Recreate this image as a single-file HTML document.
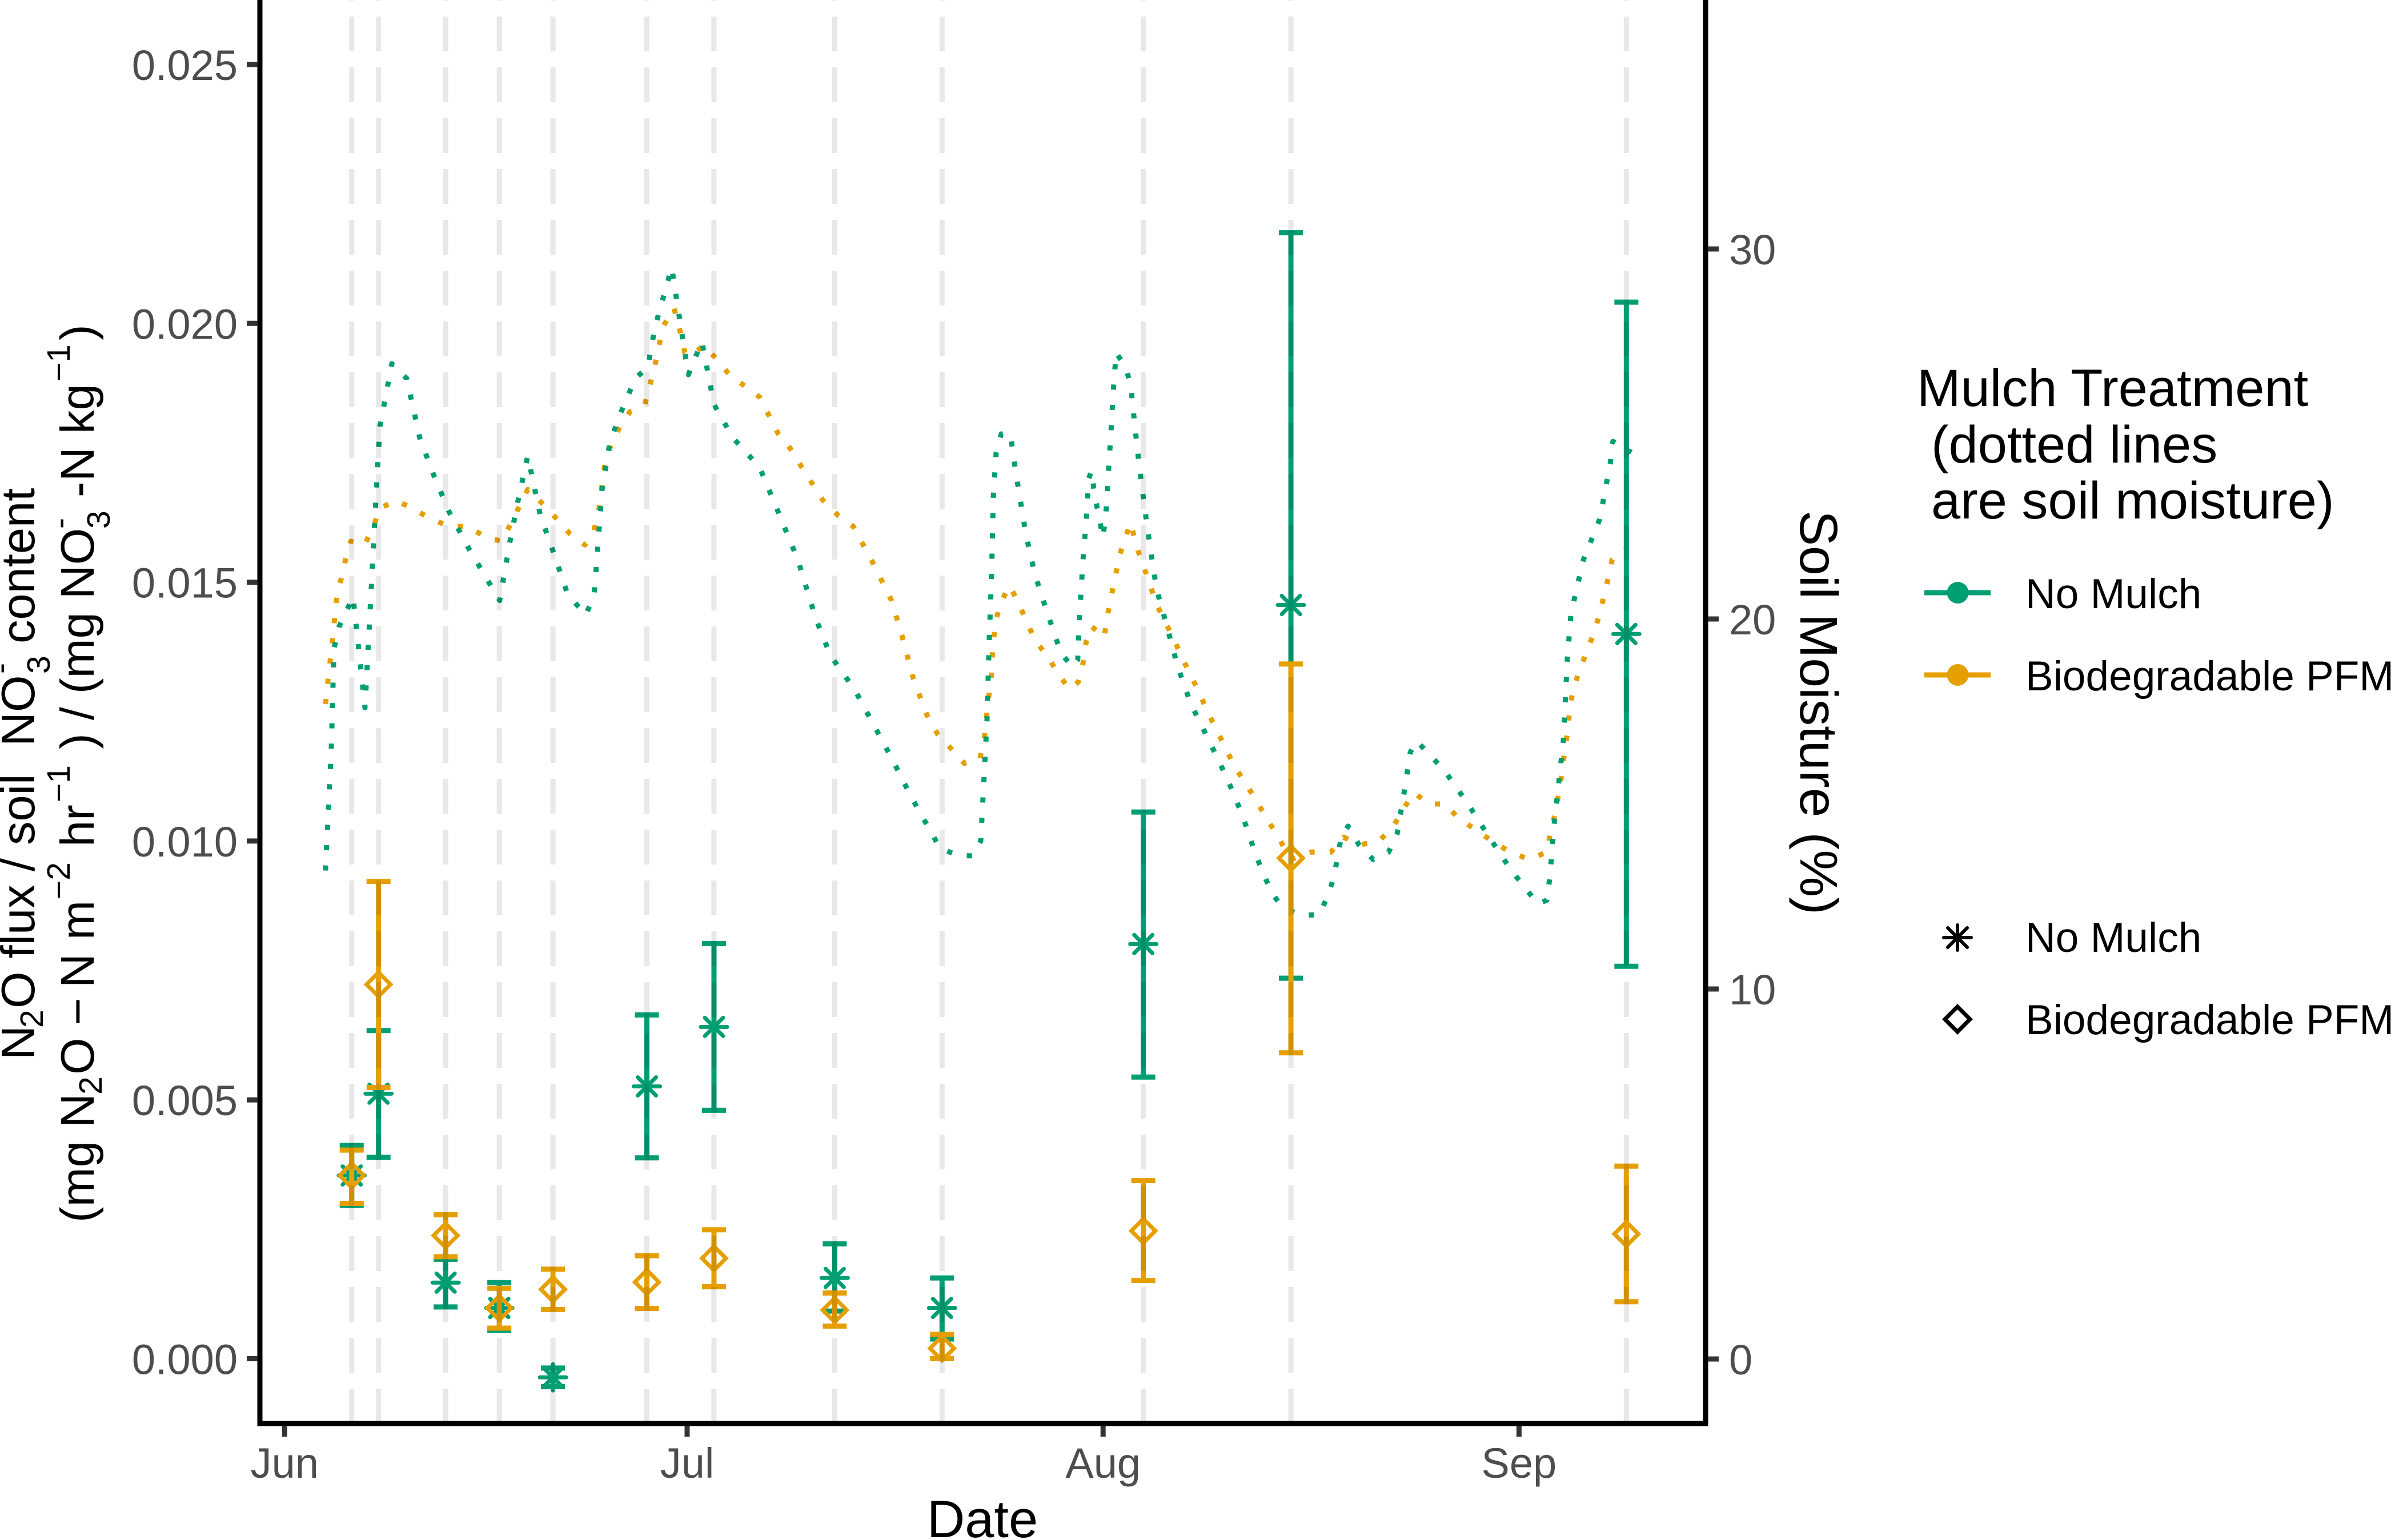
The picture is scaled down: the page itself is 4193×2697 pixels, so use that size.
<!DOCTYPE html>
<html lang="en">
<head>
<meta charset="utf-8">
<title>N2O flux per soil nitrate and soil moisture</title>
<style>
html,body{margin:0;padding:0;background:#fff;}
svg{display:block;font-family:"Liberation Sans",Arial,sans-serif;}
</style>
</head>
<body>
<svg id="chart" xmlns="http://www.w3.org/2000/svg" width="4193" height="2697" viewBox="0 0 4193 2697">
<rect width="4193" height="2697" fill="#fff"/>
<g id="moisture-layer"></g>
<g id="bars-layer"></g>
<g id="vline-layer"></g>
<g id="axis-layer"></g>

<text x="1720" y="2692" text-anchor="middle" font-size="92" fill="#000">Date</text>
<text transform="translate(3152,1248) rotate(90)" text-anchor="middle" font-size="93" fill="#000">Soil Moisture (%)</text>

<g transform="translate(60,0) rotate(-90)" font-size="83" fill="#000">
<text x="-1856" y="0">N</text>
<text x="-1800" y="15" font-size="57">2</text>
<text x="-1766" y="0">O flux / soil</text>
<text x="-1307" y="0">NO</text>
<text x="-1180" y="27" font-size="57">3</text>
<text x="-1180" y="-40" font-size="57">-</text>
<text x="-1127" y="0">content</text>
</g>
<g transform="translate(164,0) rotate(-90)" font-size="83" fill="#000">
<text x="-2141" y="0">(mg N</text>
<text x="-1917" y="14" font-size="57">2</text>
<text x="-1882" y="0">O</text>
<text x="-1796" y="0">−</text>
<text x="-1730" y="0">N</text>
<text x="-1646" y="0">m</text>
<text x="-1575" y="-42" font-size="57">−2</text>
<text x="-1483" y="0">hr</text>
<text x="-1405" y="-42" font-size="57">−1</text>
<text x="-1312" y="0">) / (mg NO</text>
<text x="-926" y="28" font-size="57">3</text>
<text x="-926" y="-40" font-size="57">-</text>
<text x="-871" y="0">-</text>
<text x="-843" y="0">N</text>
<text x="-760" y="0">kg</text>
<text x="-668" y="-42" font-size="57">−1</text>
<text x="-596" y="0">)</text>
</g>

<g>
<g font-size="92" fill="#000">
<text x="3356" y="711">Mulch Treatment</text>
<text x="3381" y="810">(dotted lines</text>
<text x="3381" y="908">are soil moisture)</text>
</g>
<g>
<line x1="3369" x2="3485" y1="1038" y2="1038" stroke="#009E73" stroke-width="9"/>
<circle cx="3427.5" cy="1038" r="19" fill="#009E73"/>
<text x="3546" y="1065" font-size="73" fill="#000">No Mulch</text>
</g>
<g>
<line x1="3369" x2="3485" y1="1182" y2="1182" stroke="#E69F00" stroke-width="9"/>
<circle cx="3427.5" cy="1182" r="19" fill="#E69F00"/>
<text x="3546" y="1209" font-size="73" fill="#000">Biodegradable PFM</text>
</g>
<g>
<path d="M3403 1642H3451M3427 1620V1664M3410 1625L3444 1659M3444 1625L3410 1659" stroke="#000" stroke-width="6" stroke-linecap="round" fill="none"/>
<text x="3546" y="1667" font-size="73" fill="#000">No Mulch</text>
</g>
<g>
<path d="M3427 1763L3449 1785L3427 1807L3405 1785Z" stroke="#000" stroke-width="7" fill="none"/>
<text x="3546" y="1811" font-size="73" fill="#000">Biodegradable PFM</text>
</g>
</g>
</svg>

<script>
// Days are counted from 1 June.
const samplingDays = [5, 7, 12, 16, 20, 27, 32, 41, 49, 64, 75, 100];

const noMulchMean  = [0.00354, 0.00512, 0.00147, 0.00098, -0.00036, 0.00526, 0.00641, 0.00156, 0.00098, 0.00801, 0.01456, 0.01400];
const noMulchUpper = [0.00412, 0.00634, 0.00192, 0.00147, -0.00018, 0.00664, 0.00802, 0.00222, 0.00156, 0.01056, 0.02175, 0.02041];
const noMulchLower = [0.00296, 0.00389, 0.00100, 0.00055, -0.00054, 0.00388, 0.00480, 0.00092, 0.00038, 0.00544, 0.00735, 0.00758];

const pfmMean  = [0.00354, 0.00723, 0.00238, 0.00098, 0.00134, 0.00148, 0.00194, 0.00094, 0.00020, 0.00247, 0.00967, 0.00241];
const pfmUpper = [0.00403, 0.00922, 0.00278, 0.00136, 0.00173, 0.00199, 0.00249, 0.00127, 0.00047, 0.00344, 0.01342, 0.00372];
const pfmLower = [0.00300, 0.00524, 0.00197, 0.00059, 0.00095, 0.00097, 0.00139, 0.00063, 0.00000, 0.00151, 0.00591, 0.00110];

const moistureDaysNoMulch = [3.05,3.48,3.68,4.07,5.10,5.99,6.54,6.84,7.10,7.99,9.10,10.07,11.1,12.25,13.73,16.03,16.8,17.4,18.12,19.06,20.04,21.06,22.42,23.06,23.66,24.21,24.85,26.13,27.06,27.61,28.85,29.4,30.09,31.1,32.0,33.4,35.4,36.55,38.25,39.6,40.7,42.47,45.3,46.69,48.86,50.27,51.24,51.88,52.13,52.35,52.52,52.69,52.82,53.03,53.41,54.09,54.52,55.24,55.92,56.81,57.84,58.69,59.11,59.24,59.5,59.75,59.93,60.14,60.35,60.99,61.2,61.37,61.58,61.75,61.97,62.69,63.07,63.37,63.71,64.1,64.52,64.99,65.76,66.57,67.55,68.91,70.23,71.38,72.4,73.55,74.4,75.72,77.09,77.73,78.19,78.75,79.26,80.07,81.13,82.28,82.92,83.43,83.9,84.37,85.43,86.45,88.2,89.78,91.44,93.4,94.07,94.29,94.63,95.0,95.3,95.6,95.86,96.16,96.8,98.02,98.8,99.0,100.37];
const moistureNoMulch = [13.2,16.5,19.2,19.8,20.6,17.6,21.4,23.5,25.2,26.9,26.5,24.9,23.9,22.9,21.9,20.5,22.1,23.2,24.4,22.8,21.8,20.7,20.1,20.6,23.5,24.7,25.4,26.5,26.8,27.9,29.5,28.2,26.6,27.5,25.8,24.9,24.1,23.1,21.6,20.0,19.0,18.1,16.2,15.2,13.8,13.6,13.6,14.0,15.7,17.3,19.5,21.2,23.3,24.5,25.0,25.0,23.9,22.3,21.2,20.2,19.1,18.7,18.9,20.0,21.6,22.7,23.8,24.0,23.4,22.2,22.8,23.8,25.0,26.1,27.2,26.8,26.3,25.2,24.1,23.0,21.9,20.8,19.8,18.7,17.7,16.7,15.7,14.7,13.6,12.6,12.2,12.0,12.0,12.5,13.0,14.1,14.4,13.9,13.5,13.7,14.2,15.3,16.4,16.7,16.3,15.9,15.0,14.1,13.2,12.3,12.4,13.0,14.5,15.7,16.7,18.9,20.1,20.6,21.6,22.7,24.2,24.8,24.5];

const moistureDaysPfm = [3.05,3.22,3.56,3.86,4.16,4.54,4.93,5.95,6.63,7.1,8.37,10.97,12.25,13.73,14.97,16.21,16.89,18.12,19.27,20.29,21.27,22.38,23.06,23.44,23.83,24.21,24.85,25.74,26.85,27.57,28.2,29.02,29.53,29.83,30.3,31.23,32.25,33.15,35.4,36.8,37.7,38.55,40.13,41.24,42.38,43.87,45.23,46.05,46.85,47.88,48.65,49.67,50.65,51.8,52.13,52.43,52.64,52.82,53.03,53.45,54.05,54.73,55.96,56.86,57.67,58.52,59.15,59.5,59.75,60.14,61.08,61.33,61.88,62.22,62.65,63.07,63.46,63.93,64.44,64.87,65.5,66.23,66.82,67.5,68.18,68.78,69.46,70.14,70.82,71.55,72.4,73.21,74.06,75.0,76.49,77.98,78.92,80.2,81.59,82.65,83.43,84.2,85.26,86.45,87.55,88.79,89.98,91.34,92.79,94.07,94.33,94.67,94.97,95.18,95.39,95.6,95.77,95.98,96.4,96.92,97.56,97.98,98.32,98.64,98.94,100.07];
const moisturePfm = [17.7,18.3,19.4,20.5,21.0,21.6,22.1,22.0,22.5,23.0,23.2,22.7,22.5,22.5,22.2,22.1,22.6,23.5,23.1,22.7,22.3,22.0,22.4,23.0,24.1,24.6,25.1,25.6,25.8,26.8,27.9,28.4,27.7,27.2,27.1,27.4,27.0,26.6,26.0,25.0,24.6,24.1,23.2,22.8,22.5,21.5,20.5,19.5,18.4,17.4,16.9,16.5,16.1,16.2,16.7,17.8,18.3,19.4,20.0,20.5,20.9,20.4,19.4,19.0,18.5,18.1,18.3,18.8,19.4,19.8,19.5,20.1,21.1,21.7,22.2,22.6,22.0,21.5,21.0,20.5,20.0,19.5,19.0,18.5,18.0,17.5,17.0,16.5,16.0,15.6,15.1,14.6,14.1,13.5,13.7,13.7,14.1,13.9,14.0,14.4,14.9,15.3,15.0,15.0,14.6,14.3,14.0,13.7,13.5,13.7,14.2,14.7,15.3,15.8,16.4,16.9,17.5,18.0,18.5,19.0,19.6,20.1,20.6,21.1,21.6,21.9];

const fluxTicks = [0, 0.005, 0.01, 0.015, 0.02, 0.025];
const fluxTickLabels = ['0.000', '0.005', '0.010', '0.015', '0.020', '0.025'];
const moistureTicks = [0, 10, 20, 30];
const moistureTickLabels = ['0', '10', '20', '30'];
const monthTickDays = [0, 30, 61, 92];
const monthTickLabels = ['Jun', 'Jul', 'Aug', 'Sep'];

const GREEN = '#009E73';
const ORANGE = '#E69F00';
const NS = 'http://www.w3.org/2000/svg';

function xScale(day) { return 498.3 + 23.49 * day; }
function yFlux(v) { return 2379.5 - 90660 * v; }
function yMoisture(m) { return 2380 - 64.8 * m; }

function el(parent, tag, attrs) {
  const node = document.createElementNS(NS, tag);
  for (const k in attrs) node.setAttribute(k, attrs[k]);
  parent.appendChild(node);
  return node;
}

const moistureLayer = document.getElementById('moisture-layer');
const barsLayer = document.getElementById('bars-layer');
const vlineLayer = document.getElementById('vline-layer');
const axisLayer = document.getElementById('axis-layer');

function drawMoisture(days, values, color, name) {
  const pts = days.map(function (d, i) { return xScale(d).toFixed(1) + ',' + yMoisture(values[i]).toFixed(1); }).join(' ');
  const line = el(moistureLayer, 'polyline', { points: pts, fill: 'none', stroke: color, 'stroke-width': 9, 'stroke-dasharray': '9 26.6', 'stroke-linejoin': 'round' });
  
  
}
drawMoisture(moistureDaysPfm, moisturePfm, ORANGE, 'moisture-line-pfm');
drawMoisture(moistureDaysNoMulch, moistureNoMulch, GREEN, 'moisture-line-no-mulch');

function drawBars(means, upper, lower, color, shape, name) {
  samplingDays.forEach(function (day, i) {
    const x = xScale(day);
    const yT = yFlux(upper[i]), yB = yFlux(lower[i]), yM = yFlux(means[i]);
    const g = el(barsLayer, 'g', {});
    
    
    const d = 'M' + x + ' ' + yT + 'V' + yB + 'M' + (x - 21) + ' ' + yT + 'H' + (x + 21) + 'M' + (x - 21) + ' ' + yB + 'H' + (x + 21);
    const bar = el(g, 'path', { d: d, stroke: color, 'stroke-width': 9, fill: 'none' });
    
    
    let m, cap;
    if (shape === 'asterisk') {
      cap = 'round';
      m = 'M' + (x - 23) + ' ' + yM + 'H' + (x + 23) + 'M' + x + ' ' + (yM - 23) + 'V' + (yM + 23) +
          'M' + (x - 16) + ' ' + (yM - 16) + 'L' + (x + 16) + ' ' + (yM + 16) + 'M' + (x + 16) + ' ' + (yM - 16) + 'L' + (x - 16) + ' ' + (yM + 16);
    } else {
      cap = 'butt';
      m = 'M' + x + ' ' + (yM - 21) + 'L' + (x + 21) + ' ' + yM + 'L' + x + ' ' + (yM + 21) + 'L' + (x - 21) + ' ' + yM + 'Z';
    }
    const marker = el(g, 'path', { d: m, stroke: color, 'stroke-width': 7, 'stroke-linecap': cap, fill: 'none' });
    
    
  });
}
drawBars(noMulchMean, noMulchUpper, noMulchLower, GREEN, 'asterisk', 'no-mulch');
drawBars(pfmMean, pfmUpper, pfmLower, ORANGE, 'diamond', 'pfm');

samplingDays.forEach(function (day) {
  const x = xScale(day);
  const v = el(vlineLayer, 'line', { x1: x, x2: x, y1: 2493, y2: 0, stroke: 'rgba(0,0,0,0.09)', 'stroke-width': 9, 'stroke-dasharray': '61 28' });
  
  
});

const axisLeft = el(axisLayer, 'line', { x1: 455, x2: 455, y1: 0, y2: 2497.5, stroke: '#000', 'stroke-width': 9 });


const axisRight = el(axisLayer, 'line', { x1: 2986, x2: 2986, y1: 0, y2: 2497.5, stroke: '#000', 'stroke-width': 9 });


const axisBottom = el(axisLayer, 'line', { x1: 450.5, x2: 2990.5, y1: 2493, y2: 2493, stroke: '#000', 'stroke-width': 9 });



fluxTicks.forEach(function (v, i) {
  const y = yFlux(v);
  const t = el(axisLayer, 'line', { x1: 432, x2: 451, y1: y, y2: y, stroke: '#333', 'stroke-width': 9 });
  
  
  const l = el(axisLayer, 'text', { x: 416, y: y + 27, 'text-anchor': 'end', 'font-size': 74, fill: '#4D4D4D' });
  
  
  l.textContent = fluxTickLabels[i];
});

moistureTicks.forEach(function (m, i) {
  const y = yMoisture(m);
  const t = el(axisLayer, 'line', { x1: 2990, x2: 3009, y1: y, y2: y, stroke: '#333', 'stroke-width': 9 });
  
  
  const l = el(axisLayer, 'text', { x: 3027, y: y + 27, 'font-size': 74, fill: '#4D4D4D' });
  
  
  l.textContent = moistureTickLabels[i];
});

monthTickDays.forEach(function (d, i) {
  const x = xScale(d);
  const t = el(axisLayer, 'line', { x1: x, x2: x, y1: 2497, y2: 2516, stroke: '#333', 'stroke-width': 9 });
  
  
  const l = el(axisLayer, 'text', { x: x, y: 2588, 'text-anchor': 'middle', 'font-size': 74, fill: '#4D4D4D' });
  
  
  l.textContent = monthTickLabels[i];
});
</script>
</body>
</html>
